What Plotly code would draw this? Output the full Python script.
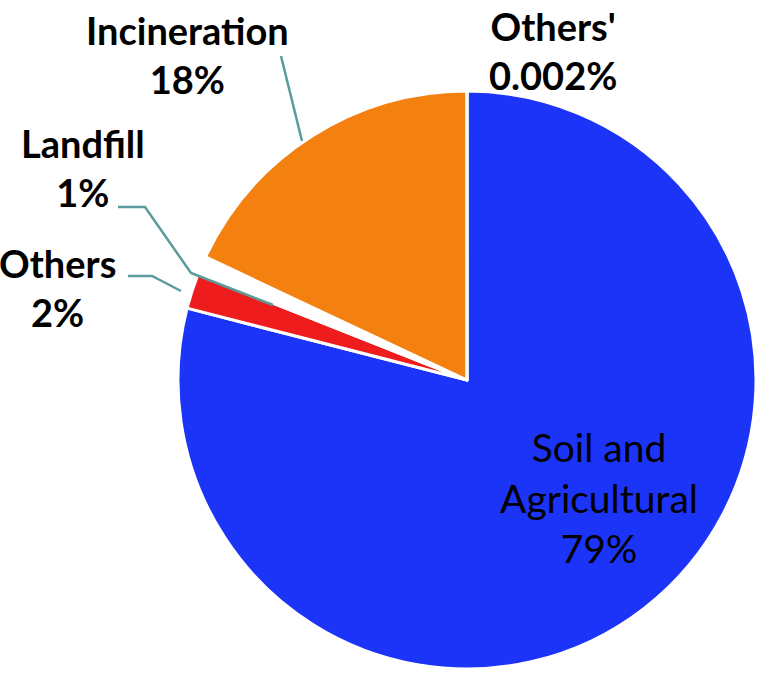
import plotly.graph_objects as go

W, H = 774, 673

# ---- data ----
categories = ["Soil and Agricultural", "Others", "Landfill", "Incineration", "Others'"]
shares = [79, 2, 1, 18, 0.002]
share_labels = ["79%", "2%", "1%", "18%", "0.002%"]
colors = ["#1c33f8", "#ee1c1c", "#ffffff", "#f4800f", "#1c33f8"]

# ---- layout constants (pixels) ----
cx, cy, R = 467, 380, 289


def px(x, y):
    return x / W, 1 - y / H


fig = go.Figure(go.Pie(
    labels=categories,
    values=shares,
    sort=False,
    direction="clockwise",
    rotation=0,
    textinfo="none",
    marker=dict(colors=colors, line=dict(color="white", width=3)),
    domain=dict(x=[(cx - R) / W, (cx + R) / W], y=[(H - cy - R) / H, (H - cy + R) / H]),
    showlegend=False,
    hoverinfo="label+percent",
))

# label positions (pixel centres), font size, weight
label_pos = {
    "Soil and Agricultural": (599, 497, 39, False, "Soil and<br>Agricultural"),
    "Others": (57, 287, 38, True, "Others"),
    "Landfill": (83, 167, 38, True, "Landfill"),
    "Incineration": (187, 54, 38, True, "Incineration"),
    "Others'": (553, 51, 38, True, "Others'"),
}

annotations = []
for cat, pct in zip(categories, share_labels):
    x, y, size, bold, name = label_pos[cat]
    text = f"{name}<br>{pct}"
    if bold:
        text = f"<b>{text}</b>"
    ax, ay = px(x, y)
    annotations.append(dict(
        x=ax, y=ay, xref="paper", yref="paper", text=text, showarrow=False,
        xanchor="center", yanchor="middle", align="center",
        font=dict(family="Lato", size=size, color="black"),
    ))

leaders = [
    [(281, 56), (302, 141)],
    [(118, 207), (145, 207), (191, 273), (273, 305)],
    [(128, 276), (152, 276), (181, 291)],
]
shapes = []
for pts in leaders:
    path = ""
    for i, (x, y) in enumerate(pts):
        X, Y = px(x, y)
        path += ("M" if i == 0 else " L") + f" {X} {Y}"
    shapes.append(dict(type="path", path=path, xref="paper", yref="paper",
                       line=dict(color="#5a9b9b", width=2.5)))

fig.update_layout(
    width=W, height=H,
    margin=dict(l=0, r=0, t=0, b=0),
    paper_bgcolor="white", plot_bgcolor="white",
    annotations=annotations,
    shapes=shapes,
)

fig.write_html("out.html", config={"displayModeBar": False},
               post_script="document.body.style.margin='0';")
